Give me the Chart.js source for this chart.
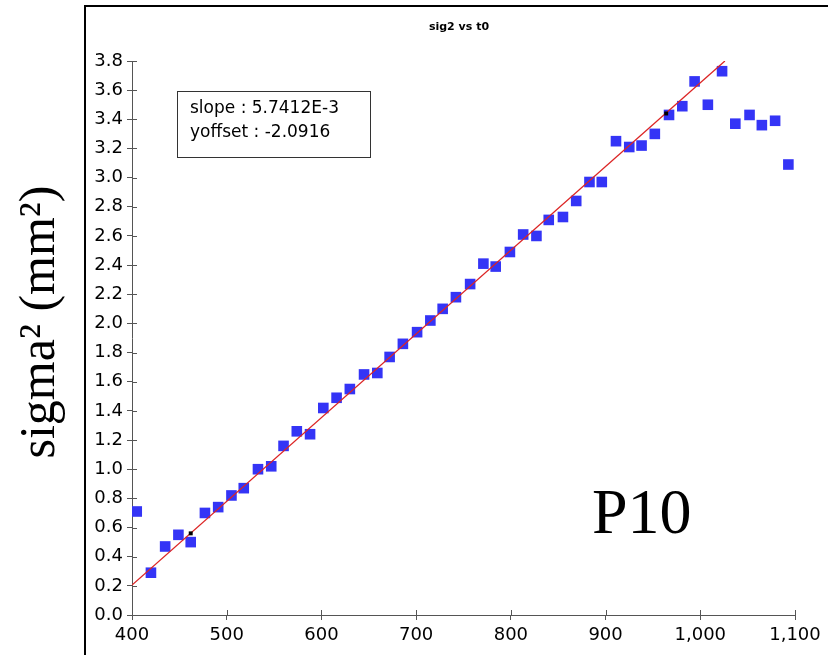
<!DOCTYPE html>
<html>
<head>
<meta charset="utf-8">
<script src="https://cdn.jsdelivr.net/npm/chart.js@4.4.1/dist/chart.umd.min.js"></script>
<style>
  html, body { margin: 0; padding: 0; background: #fff; }
  canvas { display: block; }
</style>
</head>
<body>
<canvas id="c" width="828" height="655"></canvas>
<script>
// t0 values (x) and sig2 values (y)
const t0 = [405, 420, 435, 449, 462, 477, 491, 505, 518, 533,
            547, 560, 574, 588, 602, 616, 630, 645, 659, 672,
            686, 701, 715, 728, 742, 757, 771, 784, 799, 813,
            827, 840, 855, 869, 883, 896, 911, 925, 938, 952,
            967, 981, 994, 1008, 1023, 1037, 1052, 1065, 1079, 1093];
const sig2 = [0.71, 0.29, 0.47, 0.55, 0.50, 0.70, 0.74, 0.82, 0.87, 1.00,
              1.02, 1.16, 1.26, 1.24, 1.42, 1.49, 1.55, 1.65, 1.66, 1.77,
              1.86, 1.94, 2.02, 2.10, 2.18, 2.27, 2.41, 2.39, 2.49, 2.61,
              2.60, 2.71, 2.73, 2.84, 2.97, 2.97, 3.25, 3.21, 3.22, 3.30,
              3.43, 3.49, 3.66, 3.50, 3.73, 3.37, 3.43, 3.36, 3.39, 3.09];

// fitted line (slope 5.7412E-3, yoffset -2.0916), end points
const fitX = [400, 1026];
const fitY = [0.205, 3.800];
// fit range markers
const markX = [462, 964];
const markY = [0.56, 3.44];

const legendLines = ['slope : 5.7412E-3', 'yoffset : -2.0916'];
const chartTitle = 'sig2 vs t0';
const yLabel = 'sigma\u00B2 (mm\u00B2)';
const tag = 'P10';

const pts = (xs, ys) => xs.map((x, i) => ({ x: x, y: ys[i] }));

const tickFont = { family: 'DejaVu Sans', size: 18 };

// extra drawing: frame, title, y label, fit box, P10, inner tick stubs
const decor = {
    id: 'decor',
    afterDraw(chart) {
        const c = chart.ctx;
        const a = chart.chartArea;
        const xs = chart.scales.x, ys = chart.scales.y;
        c.save();

        // outer frame
        c.strokeStyle = '#000';
        c.lineWidth = 2;
        c.beginPath();
        c.moveTo(85, 660);
        c.lineTo(85, 6);
        c.lineTo(840, 6);
        c.stroke();

        // ticks crossing into the plot
        c.strokeStyle = '#555';
        c.lineWidth = 1;
        c.beginPath();
        xs.ticks.forEach(t => {
            const px = Math.round(xs.getPixelForValue(t.value)) + 0.5;
            c.moveTo(px, a.bottom);
            c.lineTo(px, a.bottom - 5);
        });
        ys.ticks.forEach(t => {
            const py = Math.round(ys.getPixelForValue(t.value)) + 0.5;
            c.moveTo(a.left, py);
            c.lineTo(a.left + 5, py);
        });
        c.stroke();

        // title
        c.fillStyle = '#000';
        c.font = 'bold 11px "DejaVu Sans"';
        c.textAlign = 'center';
        c.textBaseline = 'middle';
        c.fillText(chartTitle, 459, 27);

        // y label
        c.save();
        c.translate(54, 322);
        c.rotate(-Math.PI / 2);
        c.font = '50px "Liberation Serif"';
        c.textAlign = 'center';
        c.textBaseline = 'alphabetic';
        c.fillText(yLabel, 0, 0);
        c.restore();

        // fit box
        c.strokeStyle = '#333';
        c.lineWidth = 1;
        c.strokeRect(177.5, 91.5, 193, 66);
        c.font = '17px "DejaVu Sans"';
        c.textAlign = 'left';
        c.textBaseline = 'alphabetic';
        c.fillText(legendLines[0], 190, 113);
        c.fillText(legendLines[1], 190, 137);

        // P10
        c.font = '64px "Liberation Serif"';
        c.fillText(tag, 592, 533);

        c.restore();
    }
};

new Chart(document.getElementById('c'), {
    type: 'scatter',
    data: {
        datasets: [
            {
                label: 'sig2',
                data: pts(t0, sig2),
                pointStyle: 'rect',
                pointRadius: 7.5,
                pointHoverRadius: 7.5,
                backgroundColor: '#3434f6',
                borderWidth: 0,
                order: 3
            },
            {
                label: 'fit',
                type: 'line',
                data: pts(fitX, fitY),
                borderColor: '#dc2424',
                borderWidth: 1.3,
                pointRadius: 0,
                fill: false,
                order: 2
            },
            {
                label: 'range',
                data: pts(markX, markY),
                pointStyle: 'rect',
                pointRadius: 2.8,
                backgroundColor: '#000',
                borderWidth: 0,
                order: 1
            }
        ]
    },
    options: {
        responsive: false,
        animation: false,
        layout: { padding: { top: 61, right: 33, left: 0, bottom: 0 } },
        plugins: {
            legend: { display: false },
            tooltip: { enabled: false }
        },
        scales: {
            x: {
                type: 'linear',
                min: 400,
                max: 1100,
                afterFit: s => { s.height = 40; },
                border: { display: true, color: '#555', width: 1 },
                grid: { drawOnChartArea: false, drawTicks: true, tickLength: 5, color: '#555' },
                ticks: {
                    stepSize: 100,
                    color: '#000',
                    font: tickFont,
                    padding: 5,
                    maxRotation: 0,
                    callback: v => v.toLocaleString('en-US')
                }
            },
            y: {
                type: 'linear',
                min: 0,
                max: 3.8,
                afterFit: s => { s.width = 132; },
                border: { display: true, color: '#555', width: 1 },
                grid: { drawOnChartArea: false, drawTicks: true, tickLength: 5, color: '#555' },
                ticks: {
                    stepSize: 0.2,
                    color: '#000',
                    font: tickFont,
                    padding: 4,
                    callback: v => v.toFixed(1)
                }
            }
        }
    },
    plugins: [decor]
});
</script>
</body>
</html>
